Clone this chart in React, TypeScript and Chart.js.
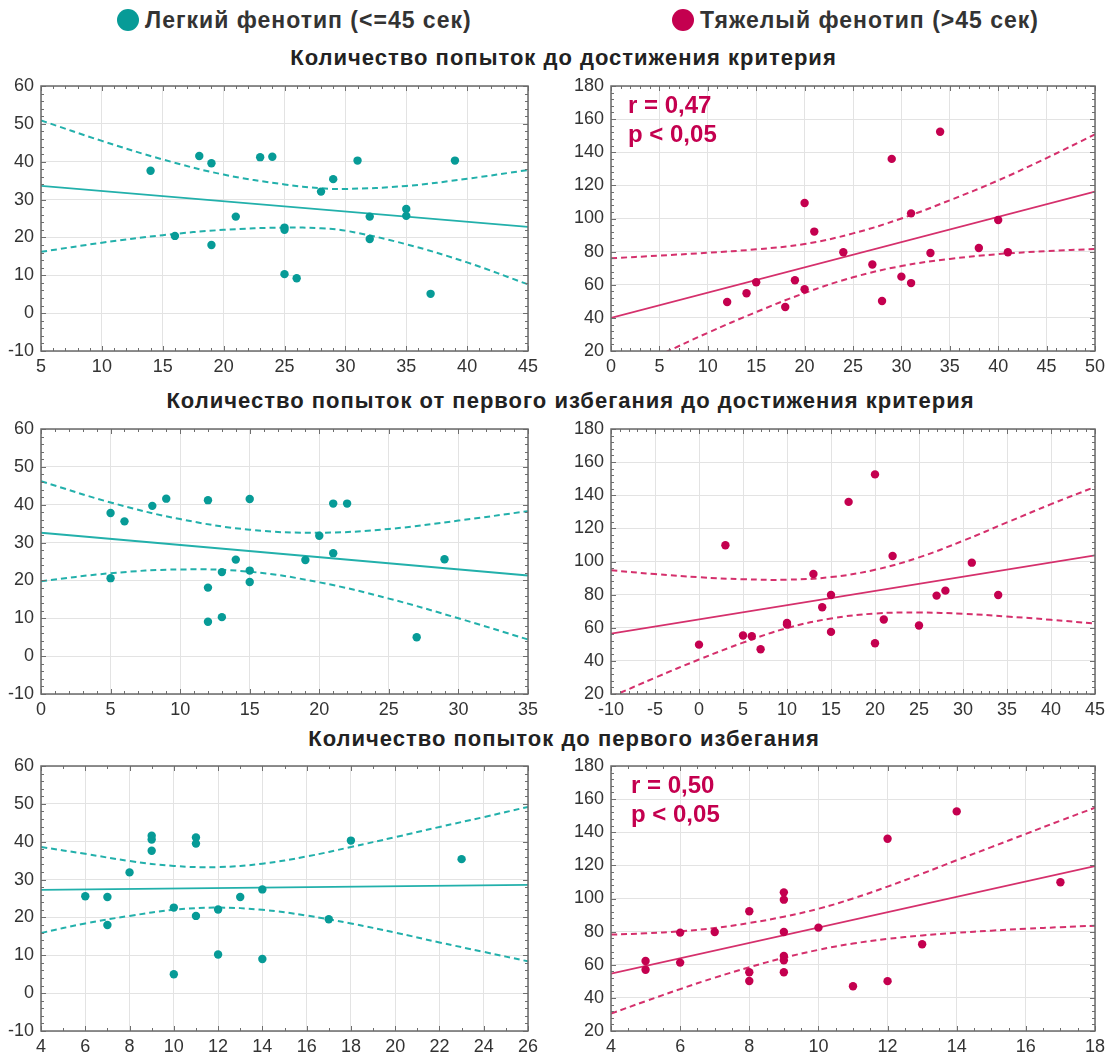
import React, { useEffect, useRef } from 'react';
import { Chart, registerables } from 'chart.js';

Chart.register(...registerables);

const FONT = '"Liberation Sans", Arial, sans-serif';

// ---------- Colours ----------
const TEAL_DOT = '#079b97';
const TEAL_LINE = '#22b0ab';
const MAG_DOT = '#c4004f';
const MAG_LINE = '#d5306c';

// ---------- Legend / titles ----------
const legendLabels = ['Легкий фенотип (<=45 сек)', 'Тяжелый фенотип (>45 сек)'];
const rowTitles = [
  'Количество попыток до достижения критерия',
  'Количество попыток от первого избегания до достижения критерия',
  'Количество попыток до первого избегания',
];
const statLabelsTop = ['r = 0,47', 'p < 0,05'];
const statLabelsBottom = ['r = 0,50', 'p < 0,05'];

// ---------- Panel 1 (light, attempts to criterion) ----------
const p1X = [14, 16, 18, 19, 19, 21, 23, 24, 25, 25, 25, 26, 28, 29, 31, 32, 32, 35, 35, 37, 39];
const p1Y = [37.6, 20.4, 41.5, 39.6, 18, 25.5, 41.2, 41.3, 22.6, 22, 10.3, 9.2, 32.1, 35.4, 40.3, 25.5, 19.6, 27.5, 25.7, 5.1, 40.3];
const p1RegX = [5, 45];
const p1RegY = [33.6, 22.8];
const p1CiX = [5, 10, 15, 20, 25, 28, 30, 35, 40, 45];
const p1Upper = [50.9, 45.5, 40.6, 36.6, 34.0, 33.0, 32.8, 33.6, 35.5, 37.8];
const p1Lower = [16.2, 18.6, 20.6, 22.0, 22.6, 22.4, 21.8, 18.2, 13.4, 7.6];

// ---------- Panel 2 (heavy, attempts to criterion) ----------
const p2X = [12, 14, 15, 18, 19, 20, 20, 21, 24, 27, 28, 29, 30, 31, 31, 33, 34, 38, 40, 41];
const p2Y = [49.6, 54.9, 61.5, 46.6, 62.7, 57.3, 109.4, 92.1, 79.6, 72.2, 50.2, 136, 64.9, 103.1, 61, 79.2, 152.4, 82.2, 99.1, 79.6];
const p2RegX = [0, 50];
const p2RegY = [40, 116.2];
const p2CiX = [0, 5, 10, 15, 20, 25, 30, 35, 40, 45, 50];
const p2Upper = [76, 77.6, 79.3, 81.4, 84.6, 91, 100, 111, 123, 136.5, 150.8];
const p2Lower = [4, 17.5, 31, 43.5, 55, 64.5, 71.3, 75.6, 78.5, 80.3, 81.6];

// ---------- Panel 3 (light, first avoidance to criterion) ----------
const p3X = [5, 6, 8, 9, 12, 15, 5, 12, 12, 13, 13, 14, 15, 15, 21, 22, 20, 21, 19, 29, 27];
const p3Y = [37.8, 35.6, 39.7, 41.6, 41.2, 41.5, 20.6, 18.1, 9.1, 10.3, 22.2, 25.5, 22.6, 19.6, 40.3, 40.3, 31.8, 27.2, 25.4, 25.6, 5];
const p3RegX = [0, 35];
const p3RegY = [32.6, 21.3];
const p3CiX = [0, 5, 10, 15, 20, 25, 30, 35];
const p3Upper = [46.2, 40.6, 36.2, 33.4, 32.6, 33.6, 35.8, 38.3];
const p3Lower = [19.8, 21.9, 22.9, 22.3, 19.5, 15.2, 10.0, 4.4];

// ---------- Panel 4 (heavy, first avoidance to criterion) ----------
const p4X = [0, 3, 5, 6, 7, 10, 10, 13, 14, 15, 15, 17, 20, 20, 21, 22, 25, 27, 28, 31, 34];
const p4Y = [49.8, 109.8, 55.3, 54.9, 47, 62.9, 61.9, 92.5, 72.4, 79.8, 57.5, 136, 152.6, 50.6, 65, 103.3, 61.4, 79.4, 82.4, 99.3, 79.8];
const p4RegX = [-10, 45];
const p4RegY = [56.5, 103.7];
const p4CiX = [-10, -5, 0, 5, 10, 15, 20, 25, 30, 35, 40, 45];
const p4Upper = [94.7, 92.4, 90.5, 89.3, 89.0, 90.6, 95.0, 102.5, 112.5, 123.6, 134.6, 145];
const p4Lower = [18.3, 29.8, 40.8, 51, 59.8, 65.6, 68.6, 69.2, 68.4, 66.8, 64.8, 62.5];

// ---------- Panel 5 (light, attempts to first avoidance) ----------
const p5X = [6, 7, 7, 8, 9, 9, 9, 10, 10, 11, 11, 11, 12, 12, 13, 14, 14, 17, 18, 23];
const p5Y = [25.6, 25.4, 18, 31.9, 41.6, 40.6, 37.6, 22.6, 5, 41.1, 39.5, 20.4, 22.1, 10.2, 25.4, 27.4, 9, 19.5, 40.3, 35.4];
const p5RegX = [4, 26];
const p5RegY = [27.3, 28.6];
const p5CiX = [4, 6, 8, 10, 12, 14, 16, 18, 20, 22, 24, 26];
const p5Upper = [38.6, 36.8, 34.9, 33.6, 33.3, 34.2, 36.1, 38.6, 41.2, 43.9, 46.5, 49.2];
const p5Lower = [15.9, 18.4, 20.4, 22.0, 22.6, 22.0, 20.5, 18.4, 16.0, 13.4, 10.9, 8.4];

// ---------- Panel 6 (heavy, attempts to first avoidance) ----------
const p6X = [5, 5, 6, 6, 7, 8, 8, 8, 9, 9, 9, 9, 9, 9, 10, 11, 12, 12, 13, 14, 17];
const p6Y = [62.3, 57, 79.4, 61.3, 79.8, 92.3, 55.5, 50.2, 103.7, 99.3, 79.8, 65.3, 62.7, 55.5, 82.4, 47, 136.1, 50.1, 72.4, 152.6, 109.8];
const p6RegX = [4, 18];
const p6RegY = [54.6, 119.6];
const p6CiX = [4, 5, 6, 7, 8, 9, 10, 11, 12, 13, 14, 15, 16, 17, 18];
const p6Upper = [78.2, 79.0, 80.2, 82.2, 85.2, 89.0, 93.8, 100, 107.2, 115, 123.1, 131, 139, 147, 154.8];
const p6Lower = [30.5, 38, 45.3, 52.2, 58.5, 64.2, 69.0, 72.8, 75.6, 77.7, 79.3, 80.6, 81.7, 82.7, 83.6];

// ---------- Axis ranges ----------
const lightYAxis = { min: -10, max: 60, step: 10, minor: 2 };
const heavyYAxis = { min: 20, max: 180, step: 20, minor: 4 };
const p1XAxis = { min: 5, max: 45, step: 5, minor: 1 };
const p2XAxis = { min: 0, max: 50, step: 5, minor: 1 };
const p3XAxis = { min: 0, max: 35, step: 5, minor: 1 };
const p4XAxis = { min: -10, max: 45, step: 5, minor: 1 };
const p5XAxis = { min: 4, max: 26, step: 2, minor: 1 };
const p6XAxis = { min: 4, max: 18, step: 2, minor: 0.5 };

const zip = (xs: number[], ys: number[]) => xs.map((x, i) => ({ x, y: ys[i] }));

const framePlugin = {
  id: 'frame',
  afterDraw(chart: any, _args: any, opts: any) {
    const { ctx, chartArea: a, scales } = chart;
    const xs = scales.x;
    const ys = scales.y;
    ctx.save();
    ctx.strokeStyle = '#6e6e6e';
    ctx.lineWidth = 1;
    const xm = opts.xMinor;
    for (let v = xs.min; v <= xs.max + 1e-9; v += xm) {
      const px = Math.round(xs.getPixelForValue(v)) + 0.5;
      const r = (v - xs.min) / opts.xStep;
      const len = Math.abs(r - Math.round(r)) < 1e-6 ? 5 : 3;
      ctx.beginPath();
      ctx.moveTo(px, a.top);
      ctx.lineTo(px, a.top + len);
      ctx.moveTo(px, a.bottom);
      ctx.lineTo(px, a.bottom - len);
      ctx.stroke();
    }
    const ym = opts.yMinor;
    for (let v = ys.min; v <= ys.max + 1e-9; v += ym) {
      const py = Math.round(ys.getPixelForValue(v)) + 0.5;
      const r = (v - ys.min) / opts.yStep;
      const len = Math.abs(r - Math.round(r)) < 1e-6 ? 5 : 3;
      ctx.beginPath();
      ctx.moveTo(a.left, py);
      ctx.lineTo(a.left + len, py);
      ctx.moveTo(a.right, py);
      ctx.lineTo(a.right - len, py);
      ctx.stroke();
    }
    ctx.strokeStyle = '#6a6a6a';
    ctx.lineWidth = 1.5;
    ctx.strokeRect(a.left, a.top, a.right - a.left, a.bottom - a.top);
    ctx.restore();
  },
};

type AxisDef = { min: number; max: number; step: number; minor: number };
type PanelProps = {
  left: number;
  top: number;
  width: number;
  height: number;
  xs: number[];
  ys: number[];
  regX: number[];
  regY: number[];
  ciX: number[];
  upper: number[];
  lower: number[];
  xAxis: AxisDef;
  yAxis: AxisDef;
  dot: string;
  line: string;
};

function Panel(p: PanelProps) {
  const ref = useRef<HTMLCanvasElement>(null);
  useEffect(() => {
    if (!ref.current) return;
    const tickFont = { family: FONT, size: 18 };
    const dashed = {
      showLine: true,
      borderColor: p.line,
      borderWidth: 2,
      borderDash: [6, 4],
      pointRadius: 0,
      tension: 0.4,
    };
    const chart = new Chart(ref.current, {
      type: 'scatter',
      data: {
        datasets: [
          {
            data: zip(p.xs, p.ys),
            showLine: false,
            pointRadius: 4.2,
            pointBackgroundColor: p.dot,
            pointBorderWidth: 0,
            order: 0,
          },
          {
            data: zip(p.regX, p.regY),
            showLine: true,
            borderColor: p.line,
            borderWidth: 1.8,
            pointRadius: 0,
            order: 1,
          },
          { ...dashed, data: zip(p.ciX, p.upper), order: 2 },
          { ...dashed, data: zip(p.ciX, p.lower), order: 3 },
        ],
      } as any,
      options: {
        animation: false,
        responsive: false,
        events: [],
        layout: { padding: { top: 10, right: 12, left: 0, bottom: 0 } },
        plugins: {
          legend: { display: false },
          tooltip: { enabled: false },
          frame: { xMinor: p.xAxis.minor, yMinor: p.yAxis.minor, xStep: p.xAxis.step, yStep: p.yAxis.step },
        } as any,
        scales: {
          x: {
            type: 'linear',
            min: p.xAxis.min,
            max: p.xAxis.max,
            ticks: { stepSize: p.xAxis.step, font: tickFont, color: '#333', padding: 5, maxRotation: 0, autoSkip: false },
            grid: { color: '#e3e3e3', drawTicks: false, lineWidth: 1 },
            border: { display: false },
            afterFit: (s: any) => {
              s.height = 24;
              s.paddingLeft = 0;
              s.paddingRight = 0;
            },
          },
          y: {
            type: 'linear',
            min: p.yAxis.min,
            max: p.yAxis.max,
            ticks: { stepSize: p.yAxis.step, font: tickFont, color: '#333', padding: 7, autoSkip: false },
            grid: { color: '#e3e3e3', drawTicks: false, lineWidth: 1 },
            border: { display: false },
            afterFit: (s: any) => {
              s.width = 41;
              s.paddingTop = 0;
              s.paddingBottom = 0;
            },
          },
        },
      } as any,
      plugins: [framePlugin],
    });
    return () => chart.destroy();
  }, []);
  return (
    <canvas
      ref={ref}
      width={p.width}
      height={p.height}
      style={{ position: 'absolute', left: p.left, top: p.top, width: p.width, height: p.height }}
    />
  );
}

const textStyle: React.CSSProperties = {
  position: 'absolute',
  fontFamily: FONT,
  fontWeight: 'bold',
  color: '#333',
  whiteSpace: 'nowrap',
};

const titleStyle: React.CSSProperties = {
  ...textStyle,
  left: 0,
  textAlign: 'center',
  fontSize: 22,
  lineHeight: '26px',
  letterSpacing: '1px',
  color: '#222',
};

export default function App() {
  const L = { left: 0, width: 540 };
  const R = { left: 570, width: 537 };
  const H = 299;
  return (
    <div style={{ position: 'fixed', left: 0, top: 0, width: 1109, height: 1059, background: '#fff', overflow: 'hidden' }}>
      {/* legend */}
      <div style={{ position: 'absolute', left: 117, top: 9, width: 22, height: 22, borderRadius: '50%', background: TEAL_DOT }} />
      <div style={{ ...textStyle, left: 145, top: 7, fontSize: 23, lineHeight: '26px', letterSpacing: '1px' }}>{legendLabels[0]}</div>
      <div style={{ position: 'absolute', left: 672, top: 9, width: 22, height: 22, borderRadius: '50%', background: MAG_DOT }} />
      <div style={{ ...textStyle, left: 700, top: 7, fontSize: 23, lineHeight: '26px', letterSpacing: '1px' }}>{legendLabels[1]}</div>

      {/* row titles */}
      <div style={{ ...titleStyle, width: 1127, top: 45 }}>{rowTitles[0]}</div>
      <div style={{ ...titleStyle, width: 1141, top: 388 }}>{rowTitles[1]}</div>
      <div style={{ ...titleStyle, width: 1128, top: 726 }}>{rowTitles[2]}</div>

      <Panel left={L.left} top={76} width={L.width} height={H} xs={p1X} ys={p1Y} regX={p1RegX} regY={p1RegY} ciX={p1CiX} upper={p1Upper} lower={p1Lower} xAxis={p1XAxis} yAxis={lightYAxis} dot={TEAL_DOT} line={TEAL_LINE} />
      <Panel left={R.left} top={76} width={R.width} height={H} xs={p2X} ys={p2Y} regX={p2RegX} regY={p2RegY} ciX={p2CiX} upper={p2Upper} lower={p2Lower} xAxis={p2XAxis} yAxis={heavyYAxis} dot={MAG_DOT} line={MAG_LINE} />
      <Panel left={L.left} top={419} width={L.width} height={H} xs={p3X} ys={p3Y} regX={p3RegX} regY={p3RegY} ciX={p3CiX} upper={p3Upper} lower={p3Lower} xAxis={p3XAxis} yAxis={lightYAxis} dot={TEAL_DOT} line={TEAL_LINE} />
      <Panel left={R.left} top={419} width={R.width} height={H} xs={p4X} ys={p4Y} regX={p4RegX} regY={p4RegY} ciX={p4CiX} upper={p4Upper} lower={p4Lower} xAxis={p4XAxis} yAxis={heavyYAxis} dot={MAG_DOT} line={MAG_LINE} />
      <Panel left={L.left} top={756} width={L.width} height={H} xs={p5X} ys={p5Y} regX={p5RegX} regY={p5RegY} ciX={p5CiX} upper={p5Upper} lower={p5Lower} xAxis={p5XAxis} yAxis={lightYAxis} dot={TEAL_DOT} line={TEAL_LINE} />
      <Panel left={R.left} top={756} width={R.width} height={H} xs={p6X} ys={p6Y} regX={p6RegX} regY={p6RegY} ciX={p6CiX} upper={p6Upper} lower={p6Lower} xAxis={p6XAxis} yAxis={heavyYAxis} dot={MAG_DOT} line={MAG_LINE} />

      {/* statistics annotations */}
      <div style={{ ...textStyle, left: 628, top: 90, fontSize: 24, lineHeight: '29px', color: MAG_DOT }}>
        {statLabelsTop[0]}
        <br />
        {statLabelsTop[1]}
      </div>
      <div style={{ ...textStyle, left: 631, top: 770, fontSize: 24, lineHeight: '29px', color: MAG_DOT }}>
        {statLabelsBottom[0]}
        <br />
        {statLabelsBottom[1]}
      </div>
    </div>
  );
}
